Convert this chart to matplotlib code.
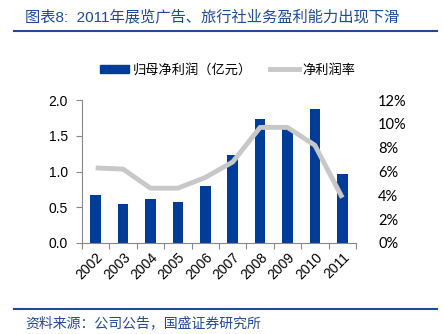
import matplotlib
matplotlib.use("Agg")
import matplotlib.pyplot as plt
from matplotlib.lines import Line2D
from matplotlib.patches import Patch

plt.rcParams['font.family'] = ['Noto Sans CJK SC', 'DejaVu Sans']

years = ['2002', '2003', '2004', '2005', '2006', '2007', '2008', '2009', '2010', '2011']
profit = [0.67, 0.54, 0.61, 0.58, 0.80, 1.23, 1.73, 1.60, 1.87, 0.97]
margin = [6.3, 6.2, 4.6, 4.6, 5.5, 6.8, 9.7, 9.7, 8.2, 3.8]
left_ticks = [0.0, 0.5, 1.0, 1.5, 2.0]
right_ticks = [0, 2, 4, 6, 8, 10, 12]

bar_color = '#003D99'
line_color = '#C8C8C8'
title_color = '#1F4A9A'
num_font = ['Liberation Sans', 'DejaVu Sans']

fig = plt.figure(figsize=(4.44, 3.34), dpi=100)
ax = fig.add_axes([82/444, 1-243/334, 274/444, 143/334])
x = range(len(years))
ax.bar(x, profit, width=0.38, color=bar_color, zorder=2)
ax.set_xlim(-0.5, len(years)-0.5)
ax.set_ylim(0, 2.0)
ax.set_yticks(left_ticks)
ax.set_yticklabels([f'{v:.1f}' for v in left_ticks], fontsize=10, family=num_font)
ax.set_xticks([i - 0.5 for i in range(len(years)+1)], minor=False)
ax.set_xticklabels([])
ax.set_xticks(list(x), minor=True)
ax.set_xticklabels(years, minor=True, rotation=45, ha='right', rotation_mode='anchor',
                   fontsize=10, family=num_font)
ax.tick_params(axis='x', which='minor', length=0, pad=5)
ax.tick_params(axis='x', which='major', length=4, color='#888888')
ax.tick_params(axis='y', length=4, color='#888888', pad=6)
for s in ['top', 'right']:
    ax.spines[s].set_visible(False)
for s in ['left', 'bottom']:
    ax.spines[s].set_color('#888888')

ax2 = ax.twinx()
ax2.plot(list(x), margin, color=line_color, lw=3.5, solid_capstyle='butt', zorder=3)
ax2.set_ylim(0, 12)
ax2.set_yticks(right_ticks)
ax2.set_yticklabels([f'{v}%' for v in right_ticks], fontsize=10.5, family=['Lato', 'DejaVu Sans'])
ax2.tick_params(axis='y', length=0, pad=16)
for s in ['top', 'right', 'left', 'bottom']:
    ax2.spines[s].set_visible(False)

handles = [Patch(color=bar_color), Line2D([0], [0], color=line_color, lw=3.5)]
fig.legend(handles, ['归母净利润（亿元）', '净利润率'], loc='center', bbox_to_anchor=(228/444, 1-70/334),
           ncol=2, frameon=False, fontsize=9.5, handlelength=2.2, handleheight=0.5,
           columnspacing=1.4, handletextpad=0.25)

fig.text(25/444, 1-17/334, '图表8:  2011年展览广告、旅行社业务盈利能力出现下滑', color=title_color,
         fontsize=11, va='center', ha='left', family=['Liberation Sans', 'Noto Sans CJK SC'])
fig.add_artist(Line2D([14/444, 437/444], [1-31/334, 1-31/334], color=title_color, lw=1.5))
fig.add_artist(Line2D([14/444, 437/444], [1-309/334, 1-309/334], color=title_color, lw=1.5))
fig.text(25/444, 1-323/334, '资料来源：公司公告，国盛证券研究所', color=title_color,
         fontsize=10, va='center', ha='left')

fig.savefig('out.png', dpi=100)
